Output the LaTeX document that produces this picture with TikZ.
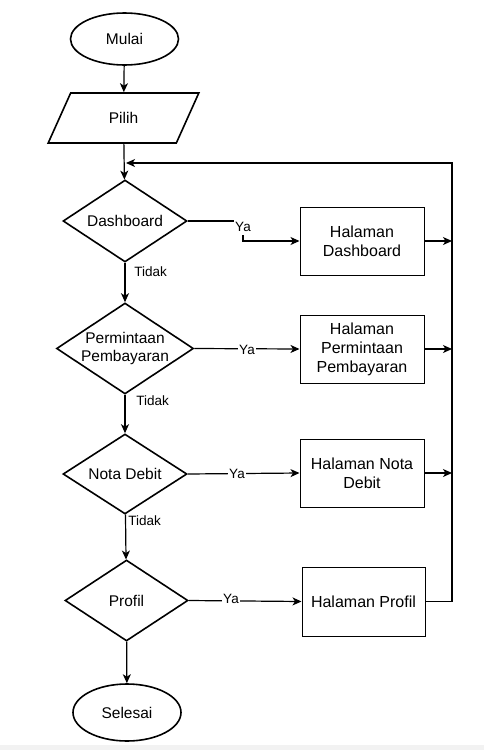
\documentclass[tikz,border=0pt]{standalone}
\usepackage{fontspec}
\setmainfont{Liberation Sans}
\usetikzlibrary{shapes.geometric,arrows.meta}

\begin{document}
\begin{tikzpicture}[x=1pt,y=-1pt,
    terminal/.style={ellipse,draw,line width=1.6pt,minimum width=108pt,inner sep=0pt,font=\fontsize{15.5}{18}\selectfont},
    inout/.style={trapezium,trapezium left angle=61,trapezium right angle=119,trapezium stretches=true,draw,line width=1.6pt,minimum width=151pt,minimum height=50pt,inner sep=0pt,font=\fontsize{15.5}{18}\selectfont},
    decision/.style={diamond,draw,line width=1.6pt,inner sep=0pt,label={[align=center,font=\fontsize{15.5}{18.5}\selectfont]center:#1}},
    page/.style={rectangle,draw,line width=1pt,minimum width=124pt,minimum height=68pt,inner sep=0pt,align=center,font=\fontsize{16}{19}\selectfont},
    arr/.style={line width=1.2pt,-{Stealth[length=9pt,width=8pt,inset=2.5pt]}},
    lbl/.style={font=\fontsize{13.5}{15}\selectfont,inner sep=1.2pt}]
    \useasboundingbox (0,0) rectangle (484,750);
    \fill[gray!10] (0,745) rectangle (484,750);

    % Define the vertices
    \node[terminal,minimum height=52pt] (mulai) at (124.5,39) {Mulai};
    \node[inout] (pilih) at (123.5,118) {Pilih};
    \node[decision=Dashboard,minimum width=124pt,minimum height=82pt] (dash) at (125,221) {};
    \node[decision={Permintaan\\Pembayaran},minimum width=137pt,minimum height=91pt] (perm) at (125,348.5) {};
    \node[decision=Nota Debit,minimum width=124pt,minimum height=80pt] (nota) at (125,474) {};
    \node[decision=Profil,minimum width=123pt,minimum height=81pt] (prof) at (126.5,600.5) {};
    \node[terminal,minimum height=57pt] (selesai) at (127,712.5) {Selesai};

    \node[page] (hdash) at (362,241) {Halaman\\Dashboard};
    \node[page] (hperm) at (362,349) {Halaman\\Permintaan\\Pembayaran};
    \node[page] (hnota) at (362,473) {Halaman Nota\\Debit};
    \node[page,minimum width=123pt,minimum height=69pt] (hprof) at (363.5,601.5) {Halaman Profil};

    \coordinate (ya1) at (243,229);
    \coordinate (back) at (452,163);
    \coordinate (loop) at (126,163);
    \coordinate (r1) at (452,241);
    \coordinate (r2) at (452,349);
    \coordinate (r3) at (452,473);

    % Draw the edges
    \draw[arr] (mulai) -- (pilih);
    \draw[arr] (pilih) -- (dash);
    \draw[arr] (dash) -- (perm);
    \draw[arr] (perm) -- (nota);
    \draw[arr] (nota) -- (prof);
    \draw[arr] (prof) -- (selesai);

    \draw[arr] (dash.east) -| (ya1) |- (hdash.west);
    \draw[arr] (perm.east) -- (hperm.west);
    \draw[arr] (nota.east) -- (hnota.west);
    \draw[arr] (prof.east) -- (hprof.west);

    \draw[arr] (hdash.east) -- (r1);
    \draw[arr] (hperm.east) -- (r2);
    \draw[arr] (hnota.east) -- (r3);
    \draw[arr] (hprof.east) -| (back) -- (loop);

    % Labels
    \node[lbl,fill=white,inner ysep=3.5pt,inner xsep=1.5pt] at (243,227) {Ya};
    \node[lbl,fill=white] at (247,350) {Ya};
    \node[lbl,fill=white] at (237,474) {Ya};
    \node[lbl,fill=white] at (231,599) {Ya};
    \node[lbl,anchor=west] at (133,272) {Tidak};
    \node[lbl,anchor=west] at (135,401) {Tidak};
    \node[lbl,anchor=west] at (127,521) {Tidak};
\end{tikzpicture}
\end{document}
